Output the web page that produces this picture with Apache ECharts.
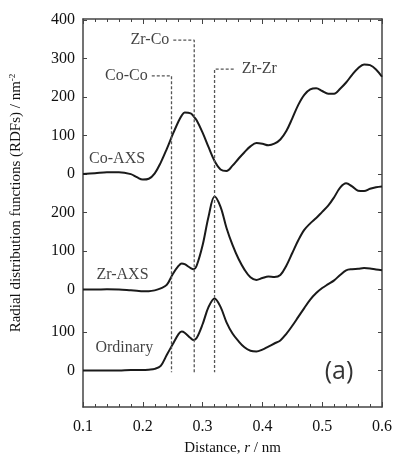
<!DOCTYPE html>
<html>
<head>
<meta charset="utf-8">
<script src="https://cdn.jsdelivr.net/npm/echarts@6/dist/echarts.min.js"></script>
<style>html,body{margin:0;padding:0;background:#fff}#c{width:395px;height:461px}</style>
</head>
<body>
<div id="c"></div>
<script>
// ---- data ----
const distance = [0.10,0.12,0.14,0.16,0.18,0.19,0.20,0.21,0.22,0.23,0.24,0.25,0.26,0.265,0.27,0.28,0.285,0.29,0.30,0.31,0.32,0.33,0.34,0.35,0.36,0.37,0.38,0.39,0.40,0.41,0.42,0.43,0.44,0.45,0.46,0.47,0.48,0.49,0.50,0.51,0.52,0.53,0.54,0.55,0.56,0.57,0.58,0.59,0.60];
const coAXS    = [0,2,5,5,0,-8,-14,-12,2,30,65,103,138,152,160,158,150,140,108,70,34,12,8,22,40,57,72,81,79,75,79,90,112,145,180,206,220,223,216,209,209,222,238,258,275,285,283,272,253];
const zrAXS    = [0,0,1,0,-2,-3,-4,-4,-2,3,12,40,62,68,66,56,53,62,115,190,242,215,160,116,80,52,32,25,30,34,33,38,62,95,128,155,172,186,202,218,240,265,276,268,257,256,262,266,268];
const ordinary = [0,0,0,0,1,1,1,2,4,12,40,68,95,101,98,84,79,84,120,165,187,165,125,96,76,60,51,49,54,62,70,78,95,116,139,162,184,201,214,224,234,248,260,263,264,266,265,262,260];

const curveNames   = ['Co-AXS','Zr-AXS','Ordinary'];
const curveOffsets = [510, 210, 0];
const curveTicks   = [[0,100,200,300,400],[0,100,200],[0,100]];
const curveLabelX  = [0.157, 0.166, 0.169];
const curveLabelY  = [39, 39, 59];

const peakNames     = ['Co-Co','Zr-Co','Zr-Zr'];
const peakPositions = [0.248, 0.286, 0.32];
const leaderEnds    = [0.215, 0.251, 0.352];
const leaderHeights = [765, 858, 783];
const leaderBottom  = -5;

const yMin = -95, yMax = 913;

// ---- build ----
const curveValues = [coAXS, zrAXS, ordinary];
const tickValues = [], tickTexts = {};
curveTicks.forEach((ts, i) => ts.forEach(t => {
  const v = t + curveOffsets[i];
  tickValues.push(v); tickTexts[v] = String(t);
}));

const serif = 'Liberation Serif';
const ink = '#111';
const axisCol = '#444';

const series = [];
curveValues.forEach((vals, i) => {
  series.push({
    type: 'line', smooth: 0.35, symbol: 'none', silent: true,
    lineStyle: {color: '#1a1a1a', width: 2},
    data: distance.map((x, k) => [x, vals[k] + curveOffsets[i]])
  });
});
peakNames.forEach((n, i) => {
  series.push({
    type: 'line', symbol: 'none', silent: true,
    lineStyle: {color: '#555', width: 1.3, type: [3, 2]},
    data: [[leaderEnds[i], leaderHeights[i]], [peakPositions[i], leaderHeights[i]], [peakPositions[i], leaderBottom]]
  });
});
series.push({
  type: 'scatter', symbolSize: 0, silent: true,
  data: peakNames.map((n, i) => ({
    value: [leaderEnds[i], leaderHeights[i]],
    label: {show: true, formatter: n, position: i === 2 ? 'right' : 'left', distance: i === 2 ? 8 : 4,
      color: ink, fontFamily: serif, fontSize: 16}
  }))
});
series.push({
  type: 'scatter', symbolSize: 0, silent: true,
  data: curveNames.map((n, i) => ({
    value: [curveLabelX[i], curveLabelY[i] + curveOffsets[i]],
    label: {show: true, formatter: n, position: 'inside', color: ink, fontFamily: serif, fontSize: 16}
  }))
});
series.push({
  type: 'scatter', symbolSize: 0, silent: true,
  data: [{value: [0.528, -3], label: {show: true, formatter: '(a)', position: 'inside', color: '#000', fontFamily: 'Open Sans', fontSize: 25}}]
});

const chart = echarts.init(document.getElementById('c'), null, {renderer: 'canvas'});
chart.setOption({
  animation: false,
  backgroundColor: '#fff',
  grid: {left: 78, right: 13, top: 19, bottom: 50, containLabel: false},
  xAxis: [{
    type: 'value', min: 0.1, max: 0.6, interval: 0.1, position: 'bottom',
    name: '{n|Distance, }{i|r}{n| / nm}', nameLocation: 'middle', nameGap: 34,
    nameTextStyle: {rich: {n: {fontFamily: serif, fontSize: 15, color: ink}, i: {fontFamily: serif, fontSize: 15, fontStyle: 'italic', color: ink}}},
    axisLine: {show: true, onZero: false, lineStyle: {color: axisCol, width: 1.5}},
    axisTick: {show: true, inside: true, length: 5, lineStyle: {color: axisCol}},
    minorTick: {show: true, splitNumber: 5, length: 3, lineStyle: {color: axisCol}},
    axisLabel: {color: ink, fontFamily: serif, fontSize: 16, margin: 12, formatter: v => v.toFixed(1)},
    splitLine: {show: false}
  }, {
    type: 'value', min: 0.1, max: 0.6, interval: 0.1, position: 'top',
    axisLine: {show: true, onZero: false, lineStyle: {color: axisCol, width: 1.5}},
    axisTick: {show: true, inside: true, length: 5, lineStyle: {color: axisCol}},
    minorTick: {show: true, splitNumber: 5, length: 3, lineStyle: {color: axisCol}},
    axisLabel: {show: false}, splitLine: {show: false}
  }],
  yAxis: [{
    type: 'value', min: yMin, max: yMax, position: 'left',
    name: '{n|Radial distribution functions (RDFs) / nm}{s|-2}', nameLocation: 'middle', nameGap: 58, nameRotate: 90,
    nameTextStyle: {padding: [0, 0, 0, 20], rich: {n: {fontFamily: serif, fontSize: 15, color: ink}, s: {fontFamily: serif, fontSize: 9, color: ink, verticalAlign: 'top', padding: [0, 0, 8, 0]}}},
    axisLine: {show: true, onZero: false, lineStyle: {color: axisCol, width: 1.5}},
    axisTick: {show: true, inside: true, length: 4, customValues: tickValues, lineStyle: {color: axisCol}},
    axisLabel: {show: true, customValues: tickValues, color: ink, fontFamily: serif, fontSize: 16, margin: 8, formatter: v => tickTexts[Math.round(v)] || ''},
    splitLine: {show: false}
  }, {
    type: 'value', min: yMin, max: yMax, position: 'right',
    axisLine: {show: true, onZero: false, lineStyle: {color: axisCol, width: 1.5}},
    axisTick: {show: true, inside: true, length: 4, customValues: tickValues, lineStyle: {color: axisCol}},
    axisLabel: {show: false}, splitLine: {show: false}
  }],
  series: series
});
</script>
</body>
</html>
